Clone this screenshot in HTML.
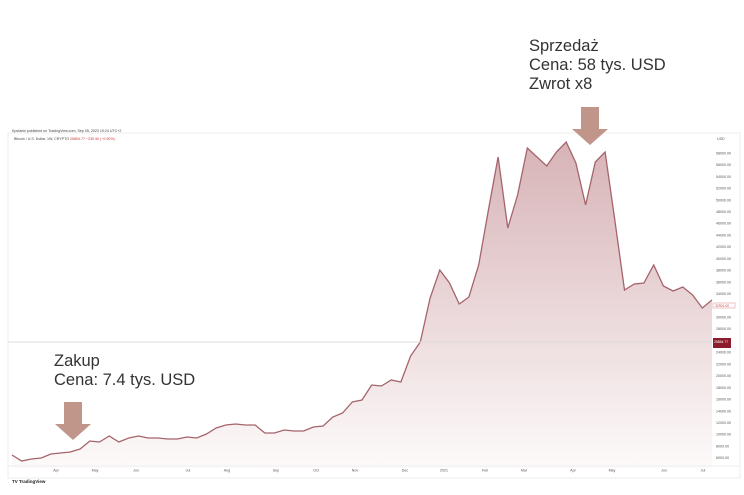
<!DOCTYPE html>
<html><head><meta charset="utf-8"><style>
body{margin:0;background:#fff;width:744px;height:495px;overflow:hidden;font-family:"Liberation Sans","Noto Sans CJK SC",sans-serif}
svg{position:absolute;left:0;top:0}
.ann{position:absolute;font-size:16.5px;color:#333;line-height:19px;font-weight:300}
</style></head><body>
<svg width="744" height="495">
<defs><linearGradient id="g" x1="0" y1="0" x2="0" y2="1"><stop offset="0" stop-color="#d7b3b7"/><stop offset="1" stop-color="#fdfafa"/></linearGradient></defs>
<g id="plot"></g>
</svg>
<div class="ann" style="left:529px;top:37px">Sprzedaż<br>Cena: 58 tys. USD<br>Zwrot x8</div>
<div class="ann" style="left:54px;top:352px">Zakup<br>Cena: 7.4 tys. USD</div>
<script>
const prices=[6451,5427,5768,5939,6621,6792,6962,7474,8840,8669,9693,8669,9352,9693,9352,9352,9181,9181,9522,9352,10034,11058,11570,11741,11570,11570,10205,10205,10717,10546,10546,11229,11399,12935,13618,15495,15836,18396,18225,19249,18908,23345,25734,33242,38020,35802,32218,33413,38874,48259,57304,45188,50819,58840,57304,55768,58157,59863,56280,49113,56451,58157,46553,34608,35631,35802,38874,35290,34437,35119,33754,31536,32901];
const yTicks=[6000,8000,10000,12000,14000,16000,18000,20000,22000,24000,28000,30000,34000,36000,38000,40000,42000,44000,46000,48000,50000,52000,54000,56000,58000];
const months=["Apr","May","Jun","Jul","Aug","Sep","Oct","Nov","Dec","2021","Feb","Mar","Apr","May","Jun","Jul"];
const monthPos=[0.0629,0.1186,0.1771,0.2514,0.3071,0.3771,0.4343,0.4900,0.5614,0.6171,0.6757,0.7314,0.8014,0.8571,0.9314,0.9871];
const X0=12,X1=712;
const y=v=>317-(v-30000)*0.00586;
const x=i=>X0+i*(X1-X0)/(prices.length-1);
const NS="http://www.w3.org/2000/svg";
const g=document.getElementById('plot');
function mk(t,a,p){const e=document.createElementNS(NS,t);for(const k in a)e.setAttribute(k,a[k]);(p||g).appendChild(e);return e;}
const frame=mk('rect',{x:8,y:133,width:732,height:345,fill:'none',stroke:'#eee'});


let d='';prices.forEach((v,i)=>{d+=(i?'L':'M')+x(i).toFixed(1)+','+y(v).toFixed(1);});
const area=mk('path',{d:d+'L'+X1+',468L'+X0+',468Z',fill:'url(#g)'});


const line=mk('path',{d:d,fill:'none',stroke:'#a5646b','stroke-width':1.3});


const last=prices[prices.length-1];
const hl=mk('line',{x1:8,x2:712,y1:342,y2:342,stroke:'#ddd','stroke-width':1});


yTicks.forEach(v=>{const t=mk('text',{x:716,y:y(v)+1.5,'font-size':3.6,fill:'#555'});t.textContent=v.toFixed(2);

});
const u=mk('text',{x:717,y:140,'font-size':3.6,fill:'#555'});u.textContent='USD';


const pb=mk('rect',{x:713,y:y(last)+3,width:22,height:5,fill:'#fff',stroke:'#d88','stroke-width':0.5});


const pt=mk('text',{x:715,y:y(last)+6.8,'font-size':3.4,fill:'#c44'});pt.textContent=last.toFixed(2);
const bd=mk('rect',{x:713,y:338,width:18,height:10,fill:'#8c1b2b'});


const bt=mk('text',{x:714,y:343,'font-size':3.4,fill:'#fff'});bt.textContent='25854.77';
mk('line',{x1:8,x2:740,y1:466,y2:466,stroke:'#eee'});
months.forEach((m,i)=>{const t=mk('text',{x:X0+monthPos[i]*(X1-X0),y:471.5,'font-size':3.6,fill:'#555','text-anchor':'middle'});t.textContent=m;

});
const h1=mk('text',{x:12,y:132,'font-size':3.6,fill:'#444'});h1.textContent='Kpstanki published on TradingView.com, Sep 05, 2023 19:24 UTC+2';
const h2=mk('text',{x:14,y:140,'font-size':3.6,fill:'#444'});h2.innerHTML='Bitcoin / U.S. Dollar, 1W, CRYPTO <tspan fill="#c33">25854.77 −230.90 (−0.90%)</tspan>';
const tv=mk('text',{x:12,y:483,'font-size':4.5,fill:'#222','font-weight':'bold'});tv.textContent='TV TradingView';


function arrow(cx,top,name){const a=mk('path',{d:`M${cx-9},${top}h18v22h9l-18,16l-18,-16h9z`,fill:'#c0958a'});

}
arrow(590,107,'sell-arrow');
arrow(73,402,'buy-arrow');
</script>
</body></html>
